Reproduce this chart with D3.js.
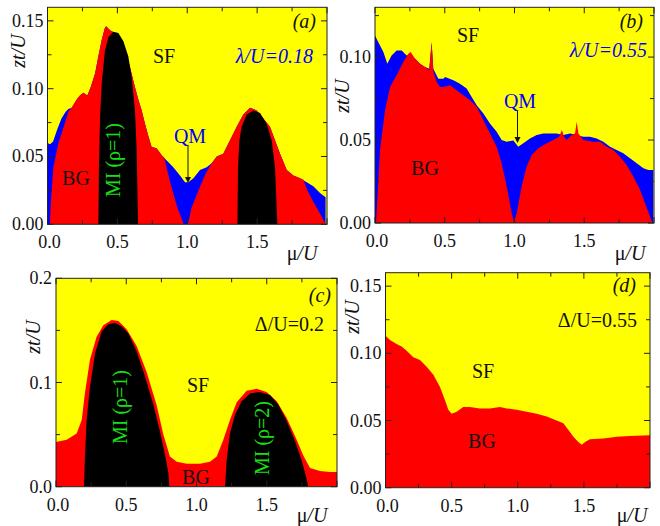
<!DOCTYPE html>
<html><head><meta charset="utf-8">
<script src="https://cdn.jsdelivr.net/npm/d3@7"></script>
<style>body{margin:0;background:#fff}svg{display:block}text{font-family:"Liberation Serif","Times New Roman",serif}</style>
</head><body>
<svg id="c" width="660" height="526"></svg>
<script>
// ---------- data (mu/U , zt/U) ----------
const xTicksMajor = [0, 0.5, 1.0, 1.5];
const xTickLabels = ["0.0", "0.5", "1.0", "1.5"];

// panel (a) lambda/U = 0.18
const aTop = [[0,0.060],[0.018,0.059],[0.040,0.061],[0.070,0.070],[0.100,0.078],[0.130,0.083],[0.149,0.085],[0.173,0.086],[0.209,0.092],[0.232,0.095],[0.256,0.097],[0.285,0.095],[0.309,0.101],[0.340,0.111],[0.364,0.124],[0.388,0.136],[0.411,0.145],[0.420,0.146],[0.447,0.143],[0.483,0.141],[0.519,0.136],[0.555,0.128],[0.590,0.116],[0.626,0.101],[0.650,0.092],[0.674,0.084],[0.698,0.074],[0.722,0.065],[0.745,0.057],[0.781,0.056],[0.817,0.051],[0.853,0.047],[0.900,0.042],[0.948,0.036],[0.984,0.031],[1.008,0.031],[1.044,0.034],[1.091,0.040],[1.139,0.042],[1.175,0.045],[1.211,0.050],[1.258,0.052],[1.306,0.062],[1.354,0.072],[1.401,0.081],[1.449,0.086],[1.497,0.084],[1.544,0.078],[1.592,0.072],[1.628,0.062],[1.664,0.052],[1.712,0.040],[1.759,0.036],[1.807,0.034],[1.855,0.031],[1.902,0.028],[1.950,0.023],[1.990,0.020]];
const aRed = [[0.017,0],[0.025,0.018],[0.042,0.042],[0.078,0.060],[0.101,0.067],[0.149,0.083],[0.173,0.086],[0.209,0.092],[0.232,0.095],[0.256,0.097],[0.285,0.095],[0.309,0.101],[0.340,0.111],[0.364,0.124],[0.388,0.136],[0.411,0.145],[0.420,0.146],[0.447,0.143],[0.483,0.141],[0.519,0.136],[0.555,0.128],[0.590,0.116],[0.626,0.101],[0.650,0.092],[0.674,0.084],[0.698,0.074],[0.722,0.065],[0.745,0.057],[0.781,0.056],[0.817,0.051],[0.835,0.049],[0.880,0.030],[0.930,0.012],[0.975,0],[1.005,0],[1.030,0.012],[1.080,0.025],[1.130,0.037],[1.175,0.045],[1.211,0.050],[1.258,0.052],[1.306,0.062],[1.354,0.072],[1.401,0.081],[1.449,0.086],[1.497,0.084],[1.544,0.078],[1.592,0.072],[1.628,0.062],[1.664,0.052],[1.712,0.040],[1.759,0.036],[1.807,0.034],[1.830,0.033],[1.860,0.025],[1.900,0.017],[1.950,0.008],[1.990,0]];
const aMI1 = [[0.364,0],[0.368,0.0425],[0.376,0.079],[0.388,0.104],[0.411,0.128],[0.435,0.138],[0.471,0.142],[0.507,0.141],[0.543,0.135],[0.578,0.124],[0.602,0.109],[0.626,0.084],[0.638,0.055],[0.648,0]];
const aMI2 = [[1.359,0],[1.363,0.042],[1.373,0.062],[1.389,0.072],[1.425,0.081],[1.473,0.084],[1.521,0.082],[1.569,0.074],[1.604,0.062],[1.628,0.042],[1.645,0]];

// panel (b) lambda/U = 0.55
const bTop = [[0,0.113],[0.024,0.109],[0.060,0.103],[0.088,0.096],[0.119,0.101],[0.155,0.104],[0.191,0.104],[0.227,0.101],[0.251,0.102],[0.287,0.099],[0.323,0.096],[0.358,0.094],[0.389,0.093],[0.406,0.109],[0.418,0.093],[0.454,0.087],[0.490,0.087],[0.502,0.088],[0.562,0.086],[0.609,0.084],[0.657,0.081],[0.693,0.076],[0.729,0.071],[0.777,0.066],[0.824,0.060],[0.872,0.055],[0.908,0.050],[0.944,0.049],[0.992,0.0497],[1.027,0.046],[1.063,0.048],[1.111,0.051],[1.159,0.053],[1.207,0.054],[1.254,0.054],[1.302,0.054],[1.350,0.053],[1.398,0.054],[1.446,0.053],[1.493,0.052],[1.541,0.052],[1.589,0.051],[1.637,0.049],[1.685,0.046],[1.732,0.044],[1.780,0.042],[1.828,0.039],[1.876,0.036],[1.924,0.033],[1.959,0.032],[1.995,0.032]];
const bRed = [[0.007,0],[0.036,0.044],[0.072,0.068],[0.108,0.082],[0.155,0.089],[0.203,0.097],[0.239,0.102],[0.256,0.103],[0.287,0.099],[0.323,0.096],[0.358,0.094],[0.389,0.092],[0.406,0.109],[0.418,0.0915],[0.442,0.085],[0.466,0.082],[0.490,0.082],[0.538,0.083],[0.585,0.080],[0.633,0.077],[0.681,0.074],[0.729,0.070],[0.777,0.062],[0.824,0.054],[0.872,0.046],[0.908,0.036],[0.944,0.022],[0.980,0.006],[0.996,0.0006],[1.016,0.006],[1.051,0.022],[1.087,0.034],[1.123,0.041],[1.171,0.045],[1.231,0.048],[1.278,0.050],[1.320,0.052],[1.340,0.056],[1.355,0.052],[1.374,0.050],[1.410,0.053],[1.434,0.054],[1.446,0.061],[1.458,0.054],[1.493,0.050],[1.565,0.049],[1.613,0.049],[1.661,0.046],[1.708,0.044],[1.756,0.040],[1.804,0.035],[1.852,0.028],[1.900,0.020],[1.935,0.012],[1.971,0.004],[1.988,0]];

// panel (c) Delta/U = 0.2
const cRed = [[0,0.043],[0.076,0.045],[0.147,0.051],[0.183,0.064],[0.206,0.090],[0.242,0.122],[0.289,0.144],[0.337,0.155],[0.396,0.160],[0.444,0.159],[0.503,0.151],[0.574,0.135],[0.645,0.110],[0.717,0.078],[0.764,0.050],[0.811,0.029],[0.859,0.024],[0.930,0.022],[1.025,0.022],[1.096,0.024],[1.144,0.029],[1.191,0.045],[1.238,0.064],[1.286,0.081],[1.357,0.092],[1.428,0.094],[1.499,0.091],[1.571,0.082],[1.642,0.066],[1.713,0.045],[1.760,0.030],[1.808,0.018],[1.879,0.015],[1.950,0.014],[2.0,0.014]];
const cMI1 = [[0.199,0],[0.206,0.029],[0.218,0.064],[0.242,0.096],[0.278,0.128],[0.325,0.149],[0.372,0.156],[0.420,0.157],[0.467,0.154],[0.515,0.147],[0.574,0.130],[0.633,0.106],[0.693,0.079],[0.740,0.053],[0.776,0.031],[0.800,0.013],[0.807,0]];
const cMI2 = [[1.203,0],[1.215,0.026],[1.238,0.051],[1.274,0.069],[1.321,0.082],[1.381,0.0895],[1.452,0.091],[1.523,0.088],[1.582,0.079],[1.642,0.063],[1.701,0.044],[1.749,0.025],[1.779,0.010],[1.796,0]];

// panel (d) Delta/U = 0.55
const dRed = [[0,0.113],[0.034,0.110],[0.084,0.107],[0.122,0.105],[0.160,0.102],[0.210,0.097],[0.261,0.095],[0.311,0.090],[0.362,0.084],[0.412,0.075],[0.450,0.065],[0.475,0.058],[0.500,0.055],[0.538,0.0565],[0.588,0.060],[0.639,0.060],[0.714,0.059],[0.790,0.059],[0.866,0.060],[0.916,0.059],[0.992,0.058],[1.067,0.0565],[1.143,0.055],[1.219,0.053],[1.294,0.050],[1.345,0.048],[1.383,0.043],[1.421,0.038],[1.458,0.034],[1.484,0.032],[1.509,0.034],[1.546,0.036],[1.647,0.0367],[1.748,0.038],[1.849,0.0384],[2.0,0.039]];

// ---------- drawing ----------
const svg = d3.select("#c");
const YEL="#ffff00", RED="#ff0000", BLU="#0000ff", BLK="#000000", GRN="#16e016";

function panel(o){
  const x = d3.scaleLinear().domain([0,2]).range([o.x0,o.x1]);
  const y = d3.scaleLinear().domain([0,o.ymax]).range([o.y0,o.y1]);
  const g = svg.append("g");
  const id = "clip"+o.name;
  g.append("clipPath").attr("id",id).append("rect")
    .attr("x",o.x0).attr("y",o.y1).attr("width",o.x1-o.x0).attr("height",o.y0-o.y1);
  const p = g.append("g").attr("clip-path",`url(#${id})`);
  p.append("rect").attr("x",o.x0).attr("y",o.y1).attr("width",o.x1-o.x0).attr("height",o.y0-o.y1).attr("fill",YEL);
  const area = d3.area().x(d=>x(d[0])).y0(y(0)).y1(d=>y(d[1]));
  o.layers.forEach(l=>{
    p.append("path").datum(l.data).attr("d",area).attr("fill",l.color);
  });
  // frame
  g.append("rect").attr("x",o.x0).attr("y",o.y1).attr("width",o.x1-o.x0).attr("height",o.y0-o.y1)
    .attr("fill","none").attr("stroke","#222").attr("stroke-width",1);
  // ticks (inward, all sides)
  const xt = d3.range(0,2.001,0.25);
  xt.forEach(v=>{
    const maj = Math.abs(v*2-Math.round(v*2))<1e-6;
    const L = maj?6:4;
    g.append("line").attr("x1",x(v)).attr("x2",x(v)).attr("y1",o.y0).attr("y2",o.y0-L).attr("stroke","#222");
    g.append("line").attr("x1",x(v)).attr("x2",x(v)).attr("y1",o.y1).attr("y2",o.y1+L).attr("stroke","#222");
  });
  const yt = d3.range(0,o.ymax+1e-9,o.minor);
  yt.forEach((v,i)=>{
    const maj = i%2===0;
    const L = maj?6:4;
    g.append("line").attr("y1",y(v)).attr("y2",y(v)).attr("x1",o.x0).attr("x2",o.x0+L).attr("stroke","#222");
    g.append("line").attr("y1",y(v)).attr("y2",y(v)).attr("x1",o.x1).attr("x2",o.x1-L).attr("stroke","#222");
  });
  // tick labels
  xTicksMajor.forEach((v,i)=>{
    g.append("text").attr("x",x(v)+(i===0?2:0)).attr("y",o.y0+24).attr("text-anchor","middle")
      .attr("font-size",18).attr("fill","#111").text(xTickLabels[i]);
  });
  o.yLabels.forEach((s,i)=>{
    g.append("text").attr("x",o.x0-4).attr("y",y(o.yVals[i])+6).attr("text-anchor","end")
      .attr("font-size",18).attr("fill","#111").text(s);
  });
  // axis titles
  const yt2 = g.append("text").attr("transform",`translate(${o.ytx},${o.yty}) rotate(-90)`)
    .attr("text-anchor","middle").attr("font-size",20).attr("font-style","italic").attr("fill","#111");
  yt2.text("zt/U");
  const xt2 = g.append("text").attr("x",o.xtx).attr("y",o.xty).attr("text-anchor","middle").attr("font-size",20).attr("fill","#111");
  xt2.append("tspan").text("μ");
  xt2.append("tspan").attr("font-style","italic").text("/U");
  // annotations
  o.texts.forEach(t=>{
    const e = g.append("text").attr("font-size",t.size||20).attr("fill",t.color||"#111")
      .attr("font-style",t.italic?"italic":"normal").attr("text-anchor",t.anchor||"middle");
    if(t.rot){ e.attr("transform",`translate(${t.x},${t.y}) rotate(-90)`).attr("dy","0.35em"); }
    else e.attr("x",t.x).attr("y",t.y);
    e.text(t.s);
  });
  (o.arrows||[]).forEach(a=>{
    g.append("line").attr("x1",a.x).attr("x2",a.x).attr("y1",a.ya).attr("y2",a.yb-4).attr("stroke","#111").attr("stroke-width",1);
    g.append("path").attr("d",`M${a.x-3},${a.yb-6} L${a.x+3},${a.yb-6} L${a.x},${a.yb} Z`).attr("fill","#111");
  });
}

panel({name:"a",x0:47.5,x1:327,y0:224.3,y1:7.3,ymax:0.16,minor:0.025,
  yVals:[0,0.05,0.10,0.15],yLabels:["0.00","0.05","0.10","0.15"],
  layers:[{data:aTop,color:BLU},{data:aRed,color:RED},{data:aMI1,color:BLK},{data:aMI2,color:BLK}],
  ytx:25,yty:51,xtx:302,xty:260,
  texts:[{s:"(a)",x:316,y:28,italic:true,anchor:"end"},{s:"SF",x:164,y:63},
    {s:"λ/U=0.18",x:313,y:63,italic:true,anchor:"end",color:BLU},{s:"BG",x:76,y:185},
    {s:"MI (ρ=1)",x:113,y:160,rot:true,color:GRN},{s:"QM",x:190,y:143,color:BLU}],
  arrows:[{x:188,ya:145,yb:183}]});

panel({name:"b",x0:375,x1:654,y0:223,y1:7.3,ymax:0.13,minor:0.025,
  yVals:[0,0.05,0.10],yLabels:["0.00","0.05","0.10"],
  layers:[{data:bTop,color:BLU},{data:bRed,color:RED}],
  ytx:349,yty:96,xtx:630,xty:260,
  texts:[{s:"(b)",x:643,y:28,italic:true,anchor:"end"},{s:"SF",x:468,y:42},
    {s:"λ/U=0.55",x:647,y:57,italic:true,anchor:"end",color:BLU},{s:"BG",x:425,y:175},
    {s:"QM",x:520,y:108,color:BLU}],
  arrows:[{x:517.5,ya:111,yb:143}]});

panel({name:"c",x0:56,x1:337,y0:486.7,y1:278.3,ymax:0.2,minor:0.05,
  yVals:[0,0.1,0.2],yLabels:["0.0","0.1","0.2"],
  layers:[{data:cRed,color:RED},{data:cMI1,color:BLK},{data:cMI2,color:BLK}],
  ytx:40,yty:337,xtx:312,xty:522,
  texts:[{s:"(c)",x:331,y:302,italic:true,anchor:"end"},{s:"Δ/U=0.2",x:324,y:331,anchor:"end"},
    {s:"SF",x:198,y:392},{s:"BG",x:196,y:484},
    {s:"MI (ρ=1)",x:120,y:407,rot:true,color:GRN},{s:"MI (ρ=2)",x:262,y:438,rot:true,color:GRN}],
  arrows:[]});

panel({name:"d",x0:385.5,x1:650,y0:487.7,y1:272.7,ymax:0.16,minor:0.025,
  yVals:[0,0.05,0.10,0.15],yLabels:["0.00","0.05","0.10","0.15"],
  layers:[{data:dRed,color:RED}],
  ytx:359,yty:317,xtx:632,xty:522,
  texts:[{s:"(d)",x:636,y:292,italic:true,anchor:"end"},{s:"Δ/U=0.55",x:637,y:327,anchor:"end"},
    {s:"SF",x:483,y:378},{s:"BG",x:482,y:448}],
  arrows:[]});
</script>
</body></html>
